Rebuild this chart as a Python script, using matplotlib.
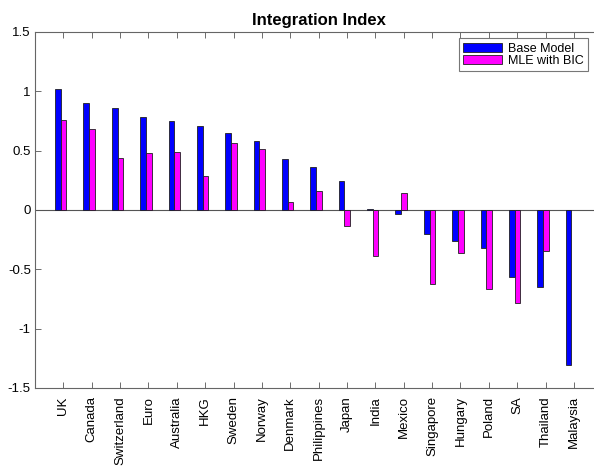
import numpy as np
import matplotlib.pyplot as plt

plt.rcParams['font.family'] = ['Liberation Sans', 'DejaVu Sans']

countries = ['UK', 'Canada', 'Switzerland', 'Euro', 'Australia', 'HKG', 'Sweden',
             'Norway', 'Denmark', 'Philippines', 'Japan', 'India', 'Mexico',
             'Singapore', 'Hungary', 'Poland', 'SA', 'Thailand', 'Malaysia']
base_model = [1.02, 0.90, 0.86, 0.78, 0.75, 0.71, 0.65, 0.585, 0.43, 0.36, 0.24,
              0.01, -0.035, -0.20, -0.26, -0.32, -0.565, -0.65, -1.31]
mle_bic = [0.76, 0.685, 0.435, 0.48, 0.49, 0.29, 0.565, 0.51, 0.067, 0.16, -0.135,
           -0.385, 0.143, -0.62, -0.36, -0.665, -0.78, -0.345, np.nan]

fig = plt.figure(figsize=(5.94, 4.66), dpi=100)
# axes runs a little past the right edge, so the right frame is cut off
ax = fig.add_axes([0.0589, 0.1674, 0.955, 0.764])

x = np.arange(1, len(countries) + 1)
w = 0.2
ax.bar(x - 0.19, base_model, w, color='#0000ff', edgecolor='#202020',
       linewidth=0.6, label='Base Model')
ax.bar(x + 0.01, mle_bic, w, color='#ff00ff', edgecolor='#202020',
       linewidth=0.6, label='MLE with BIC')
ax.axhline(0, color='#555555', linewidth=0.8, zorder=0)

ax.set_xlim(0, 20)
ax.set_ylim(-1.5, 1.5)
ax.set_yticks([-1.5, -1, -0.5, 0, 0.5, 1, 1.5])
ax.set_yticklabels(['-1.5', '-1', '-0.5', '0', '0.5', '1', '1.5'])
ax.set_xticks(x)
ax.set_xticklabels(countries, rotation=90)
ax.tick_params(direction='in', top=True, right=True, length=4, width=0.6,
               color='#555555', labelsize=9.5, pad=3)
ax.tick_params(axis='x', pad=6)
for s in ax.spines.values():
    s.set_color('#666666')
    s.set_linewidth(0.8)

ax.set_title('Integration Index', fontsize=12, fontweight='bold', pad=5)

leg = ax.legend(loc='upper right', bbox_to_anchor=(0.9745, 0.982), fontsize=9,
                fancybox=False, framealpha=1, edgecolor='#777777',
                handlelength=3.1, handleheight=0.65, borderpad=0.35,
                labelspacing=0.0, handletextpad=0.45, borderaxespad=0)
leg.get_frame().set_linewidth(0.8)

fig.savefig('out.png', dpi=100)
